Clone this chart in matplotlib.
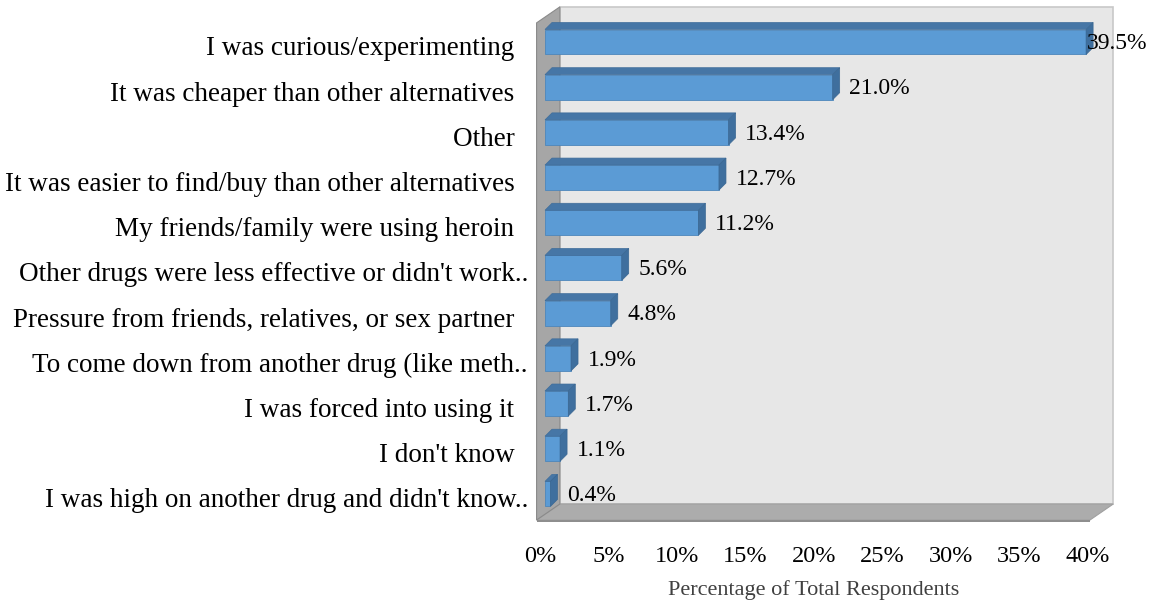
import matplotlib
matplotlib.use('Agg')
import matplotlib.pyplot as plt
import matplotlib.transforms as mtransforms
from matplotlib.patches import Polygon
import numpy as np

# data, top to bottom as in the chart
reasons = ["I was curious/experimenting  ",
           "It was cheaper than other alternatives  ",
           "Other  ",
           "It was easier to find/buy than other alternatives  ",
           "My friends/family were using heroin  ",
           "Other drugs were less effective or didn't work..",
           "Pressure from friends, relatives, or sex partner  ",
           "To come down from another drug (like meth..",
           "I was forced into using it  ",
           "I don't know  ",
           "I was high on another drug and didn't know.."]
percent = [39.5, 21.0, 13.4, 12.7, 11.2, 5.6, 4.8, 1.9, 1.7, 1.1, 0.4]
xticks = [0, 5, 10, 15, 20, 25, 30, 35, 40]

plt.rcParams['font.family'] = 'Liberation Serif'
FS_CAT = 19.5
FS_TICK = 17.5
FS_VAL = 17
FS_LAB = 16

fig = plt.figure(figsize=(11.52, 6.13), dpi=100)
ax = fig.add_axes([530 / 1152, 88 / 613, 590 / 1152, 522 / 613])
ax.set_xlim(-0.73, 42.34)
ax.set_ylim(-0.111, 11.44)

n = len(reasons)
# 3d box depth (data units)
wdx, wdy = 1.7, 0.354
x0, x1 = -0.25, 40.15
top = n

# back wall
ax.add_patch(Polygon([(x0 + wdx, wdy), (x1 + wdx, wdy), (x1 + wdx, top + wdy), (x0 + wdx, top + wdy)],
                     closed=True, facecolor='#e7e7e7', edgecolor='#c8c8c8', lw=1.2, zorder=1))
# floor
ax.add_patch(Polygon([(x0, 0), (x1, 0), (x1 + wdx, wdy), (x0 + wdx, wdy)],
                     closed=True, facecolor='#acacac', edgecolor='#a0a0a0', lw=0.8, zorder=2))
ax.add_patch(Polygon([(x0, -0.05), (x1, -0.05), (x1, 0), (x0, 0)],
                     closed=True, facecolor='#8e8e8e', edgecolor='none', zorder=2))
# left wall
ax.add_patch(Polygon([(x0, 0), (x0 + wdx, wdy), (x0 + wdx, top + wdy), (x0, top)],
                     closed=True, facecolor='#a6a6a6', edgecolor='#8a8a8a', lw=0.8, zorder=2))

# bars
sx, sy = 0.365, 0.077
bdx, bdy = 0.511, 0.155
h = 0.553
centers = np.arange(n)[::-1] + 0.5 + sy
ax.barh(centers, percent, left=sx, height=h, color='#5b9bd5', edgecolor='#4d86bb', lw=0.6, zorder=4)
for c, v in zip(centers, percent):
    yb, yt = c - h / 2, c + h / 2
    xr = sx + v
    ax.add_patch(Polygon([(sx, yt), (xr, yt), (xr + bdx, yt + bdy), (sx + bdx, yt + bdy)],
                         closed=True, facecolor='#4676a6', edgecolor='#3f6d9a', lw=0.5, zorder=4))
    ax.add_patch(Polygon([(xr, yb), (xr + bdx, yb + bdy), (xr + bdx, yt + bdy), (xr, yt)],
                         closed=True, facecolor='#3f6f9e', edgecolor='#3a6792', lw=0.5, zorder=4))
    lx = min(xr + bdx + 0.7, 39.93)
    ax.text(lx, c - 0.04, f'{v:.1f}%', ha='left', va='center', fontsize=FS_VAL, zorder=6)

ax.set_yticks(centers)
ax.set_yticklabels(reasons, fontsize=FS_CAT)
ax.set_xticks(xticks)
ax.set_xticklabels([f'{t}%' for t in xticks], fontsize=FS_TICK)
ax.tick_params(axis='both', length=0)
ax.tick_params(axis='x', pad=15)
ax.tick_params(axis='y', pad=1.5)
down = mtransforms.ScaledTranslation(0, -4 / 100, fig.dpi_scale_trans)
for lbl in ax.get_yticklabels():
    lbl.set_transform(lbl.get_transform() + down)
for s in ax.spines.values():
    s.set_visible(False)
ax.set_facecolor('none')

ax.text(20, -1.55, 'Percentage of Total Respondents', ha='center', va='center',
        fontsize=FS_LAB, color='#404040', clip_on=False)

fig.savefig('out.png', dpi=100)
